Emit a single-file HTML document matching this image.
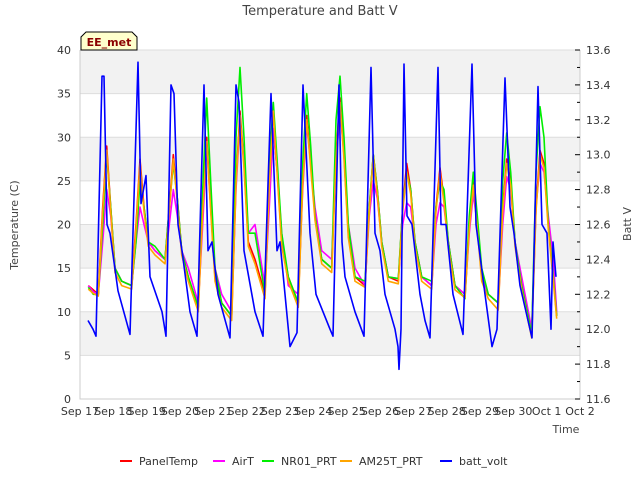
<!DOCTYPE html>
<html><head><meta charset="utf-8"><style>
body{margin:0;background:#fff;font-family:"Liberation Sans","DejaVu Sans",sans-serif}
svg text{font-family:"DejaVu Sans","Liberation Sans",sans-serif}
</style></head><body>
<svg id="chart" width="640" height="480">
<rect width="640" height="480" fill="#fff"/>
<g id="bands"></g><g id="grid"></g><g id="axes"></g><g id="series"></g>
<text x="320" y="15" text-anchor="middle" font-size="13" fill="#444">Temperature and Batt V</text>
<text x="566" y="433" text-anchor="middle" font-size="11" fill="#444">Time</text>
<text transform="translate(18,225) rotate(-90)" text-anchor="middle" font-size="11" fill="#444">Temperature (C)</text>
<text transform="translate(631,224) rotate(-90)" text-anchor="middle" font-size="11" fill="#444">Batt V</text>
<g>
<path d="M81,50 L81,37 L86,32 L132,32 L137,37 L137,50 Z" fill="#ffffcc" stroke="#000" stroke-width="1"/>
<text x="109" y="46" text-anchor="middle" font-size="11" font-weight="bold" fill="#8b0000">EE_met</text>
</g>
<g id="legend"></g>
</svg>
<script>
const tempTimes=[0.25,0.4,0.55,0.68,0.8,0.92,1.05,1.25,1.55,1.68,1.8,1.92,2.05,2.25,2.55,2.68,2.8,2.92,3.05,3.25,3.55,3.68,3.8,3.92,4.05,4.25,4.55,4.68,4.8,4.92,5.05,5.25,5.55,5.68,5.8,5.92,6.05,6.25,6.55,6.68,6.8,6.92,7.05,7.25,7.55,7.68,7.8,7.92,8.05,8.25,8.55,8.68,8.8,8.92,9.05,9.25,9.55,9.68,9.8,9.92,10.05,10.25,10.55,10.68,10.8,10.92,11.05,11.25,11.55,11.68,11.8,11.92,12.05,12.25,12.55,12.68,12.8,12.92,13.05,13.25,13.55,13.68,13.8,13.92,14.05,14.2,14.3];
const panelTemp=[13,12.5,12,22,29,22,15,13.5,13,20,27.5,22,18,17,16,22,28,23,17,14,10.5,22,30,22,14,11,9.5,25,33,27,18,16,12,25,31,26,18,14,11,25,32.5,27,21,16,15,28,34.5,28,19,14,13,22,28,24,18,14,13.5,22,27,24,18,14,13,22,26.5,23,18,13,12,20,25,20,14,12,11,22,27.5,25,18,13,7.5,22,28.5,27,20,14,9.5];
const airT=[13,12.3,12,18,24,21,15,13.5,13,18,22,20,18,17,16,20,24,21,17,15,11,20,29,22,15,12,10,24,32,27,19,20,13,22,31,26,19,13,12,24,31.5,27,22,17,16,27,33,28,20,15,13,21,25,23,18,14,13.8,20,22.5,22,18,14,13,20,22.5,22,18,13,12,19,23.5,20,14,12,11,20,25.5,24,18,14,8,22,27,26,21,16,10];
const nr01=[12.8,12,12,20,28,22,15,13.5,13,18,25,22,18,17.5,16,22,27,23,17,14,10.5,24,34.5,25,15,11,9.5,30,38,30,19,19,12,27,34,27,19,14,11,27,35,29,21,16,15,32,37,30,20,14,13.5,22,28,24,18,14,13.8,22,26,24,18,14,13.5,22,25,24,18,13,11.5,21,26,21,15,12,11,25,30.5,26,18,13,7.5,26,33.5,30,20,14,9.5];
const am25t=[12.6,12.1,11.8,21.5,28.5,21.5,14.5,13,12.6,19.5,27,21.5,17.5,16.5,15.5,21.5,27.5,22.5,16.5,13.5,10,21.5,29.5,21.5,13.5,10.5,9,24.5,32.5,26.5,17.5,15.5,11.5,24.5,33,25.5,17.5,13.5,10.5,24.5,32,26.5,20.5,15.5,14.5,27.5,34,27.5,18.5,13.5,12.8,21.5,27.8,23.5,17.5,13.5,13.2,21.5,26,23.5,17.5,13.5,12.6,21.5,26,22.5,17.5,12.5,11.6,19.5,24.5,19.5,13.5,11.5,10.2,21.5,27,24.5,17.5,12.5,7,21.5,28,26.5,19.5,13.5,9.2];
const battTimes=[0.24,0.39,0.48,0.66,0.72,0.81,0.9,1.14,1.5,1.74,1.83,1.98,2.1,2.46,2.58,2.73,2.82,2.94,3.06,3.3,3.51,3.72,3.84,3.96,4.14,4.5,4.68,4.77,4.92,5.25,5.49,5.73,5.91,6.0,6.15,6.3,6.51,6.69,6.9,7.08,7.5,7.59,7.77,7.86,7.95,8.25,8.52,8.73,8.85,9.0,9.15,9.45,9.54,9.57,9.63,9.72,9.81,9.96,10.2,10.35,10.5,10.74,10.83,10.98,11.19,11.49,11.76,11.88,12.15,12.36,12.51,12.75,12.9,13.02,13.2,13.44,13.56,13.74,13.86,14.01,14.13,14.19,14.28];
const battVolt=[12.05,12.0,11.96,13.45,13.45,12.6,12.55,12.22,11.97,13.53,12.72,12.88,12.3,12.1,11.96,13.4,13.35,12.6,12.45,12.1,11.96,13.4,12.45,12.5,12.2,11.95,13.4,13.3,12.45,12.1,11.96,13.35,12.45,12.5,12.2,11.9,11.98,13.4,12.55,12.2,12.0,11.96,13.4,12.5,12.3,12.1,11.96,13.5,12.55,12.45,12.2,12.0,11.9,11.77,12.0,13.52,12.65,12.6,12.2,12.05,11.95,13.5,12.6,12.6,12.2,11.97,13.52,12.6,12.2,11.9,12.0,13.44,12.7,12.55,12.25,12.05,11.95,13.39,12.6,12.55,12.0,12.5,12.3];
const xLabels=["Sep 17","Sep 18","Sep 19","Sep 20","Sep 21","Sep 22","Sep 23","Sep 24","Sep 25","Sep 26","Sep 27","Sep 28","Sep 29","Sep 30","Oct 1","Oct 2"];
const yTicks=[0,5,10,15,20,25,30,35,40];
const y2Ticks=[11.6,11.8,12.0,12.2,12.4,12.6,12.8,13.0,13.2,13.4,13.6];
const legendNames=["PanelTemp","AirT","NR01_PRT","AM25T_PRT","batt_volt"];
const legendColors=["#ff0000","#ff00ff","#00ee00","#ffa500","#0000ff"];

const X0=80,X1=580,Y0=399,Y1=50;
const xs=d=>X0+(X1-X0)*d/15;
const ys=v=>Y0-(Y0-Y1)*v/40;
const ys2=v=>Y0-(Y0-Y1)*(v-11.6)/2;
const NS="http://www.w3.org/2000/svg";
function mk(tag,attrs,parent){const e=document.createElementNS(NS,tag);for(const k in attrs)e.setAttribute(k,attrs[k]);document.getElementById(parent).appendChild(e);return e;}

for(let i=0;i<4;i++){
 const r=mk('rect',{x:X0,y:ys(40-10*i),width:X1-X0,height:ys(35-10*i)-ys(40-10*i),fill:'#f2f2f2'},'bands');
 
 
}
yTicks.forEach(v=>{
 const l=mk('line',{x1:X0,x2:X1,y1:ys(v),y2:ys(v),stroke:'#ddd','stroke-width':1},'grid');
 
 
 const t=mk('text',{x:X0-9,y:ys(v)+4,'text-anchor':'end','font-size':11,fill:'#333'},'axes');
 t.textContent=v;
 
 
});
const ax=mk('path',{d:`M${X0},${Y1}V${Y0}H${X1}V${Y1}`,fill:'none',stroke:'#ccc'},'axes');


for(let v=11.6;v<=13.601;v+=0.1){
 const major=Math.round(v*10)%2===0;
 mk('line',{x1:X1,x2:X1-(major?5:3),y1:ys2(v),y2:ys2(v),stroke:'#000'},'axes');
}
y2Ticks.forEach(v=>{
 const t=mk('text',{x:X1+6,y:ys2(v)+4,'font-size':11,fill:'#333'},'axes');
 t.textContent=v.toFixed(1);
 
 
});
xLabels.forEach((s,i)=>{
 const t=mk('text',{x:xs(i),y:415,'text-anchor':'middle','font-size':11,fill:'#333'},'axes');
 t.textContent=s;
 
 
});
function line(times,vals,scale,color,name){
 const d=times.map((t,i)=>(i?'L':'M')+xs(t).toFixed(1)+','+scale(vals[i]).toFixed(1)).join('');
 const p=mk('path',{d,fill:'none',stroke:color,'stroke-width':1.6,'stroke-linejoin':'round'},'series');
 
 
}
line(tempTimes,panelTemp,ys,legendColors[0],'paneltemp-line');
line(tempTimes,airT,ys,legendColors[1],'airt-line');
line(tempTimes,nr01,ys,legendColors[2],'nr01-prt-line');
line(tempTimes,am25t,ys,legendColors[3],'am25t-prt-line');
line(battTimes,battVolt,ys2,legendColors[4],'batt-volt-line');
const lx=[120,213,262,340,440];
legendNames.forEach((n,i)=>{
 const g=mk('g',{},'legend');
 
 
 const l=document.createElementNS(NS,'line');
 l.setAttribute('x1',lx[i]);l.setAttribute('x2',lx[i]+12);l.setAttribute('y1',461);l.setAttribute('y2',461);
 l.setAttribute('stroke',legendColors[i]);l.setAttribute('stroke-width',2);g.appendChild(l);
 const t=document.createElementNS(NS,'text');
 t.setAttribute('x',lx[i]+19);t.setAttribute('y',465);t.setAttribute('font-size',11);t.setAttribute('fill','#333');
 t.textContent=n;g.appendChild(t);
});
</script>
</body></html>
